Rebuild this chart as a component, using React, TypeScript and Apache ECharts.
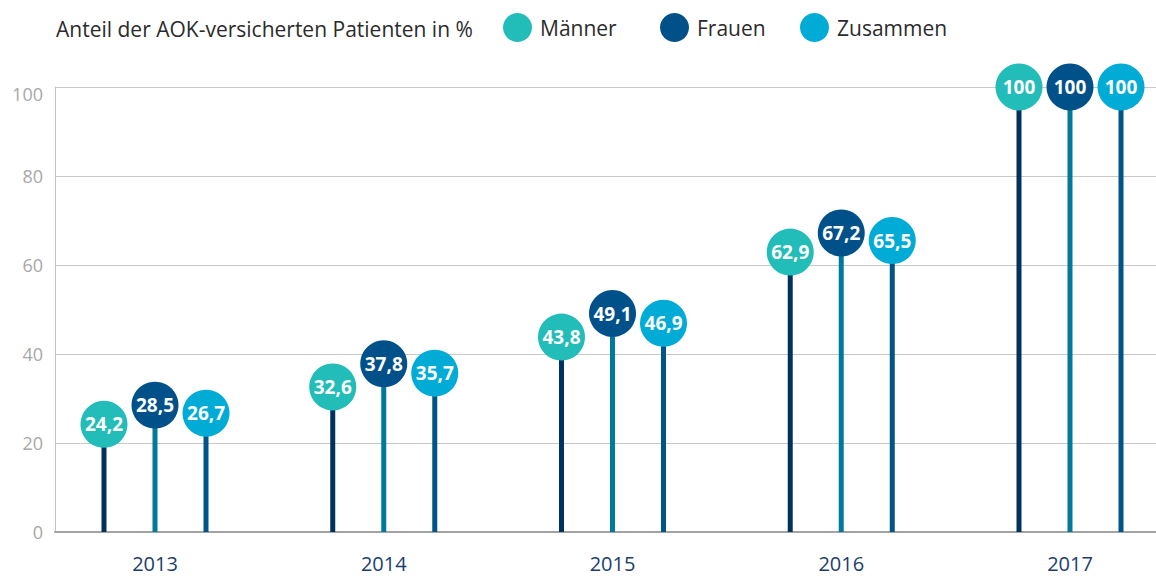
import React, { useEffect, useRef } from "react";
import * as echarts from "echarts";

const YEARS = ["2013", "2014", "2015", "2016", "2017"];
const SERIES_NAMES = ["Männer", "Frauen", "Zusammen"];
const MAENNER = [24.2, 32.6, 43.8, 62.9, 100];
const FRAUEN = [28.5, 37.8, 49.1, 67.2, 100];
const ZUSAMMEN = [26.7, 35.7, 46.9, 65.5, 100];
const Y_TICKS = [0, 20, 40, 60, 80, 100];
const TITLE = "Anteil der AOK-versicherten Patienten in %";

const CIRCLE_COLORS = ["#22bdb9", "#00518a", "#00acd6"];
const STEM_COLORS = ["#00325e", "#007a9b", "#005487"];
const OFFSETS = [-0.223, 0, 0.223];
const FONT = "'Open Sans', sans-serif";

export default function App() {
  const ref = useRef<HTMLDivElement>(null);
  useEffect(() => {
    if (!ref.current) return;
    const chart = echarts.init(ref.current, undefined, { renderer: "svg" });
    const all = [MAENNER, FRAUEN, ZUSAMMEN];
    const fmt = (v: number) => String(v).replace(".", ",");
    const bars = all.map((vals, k) => ({
      type: "bar",
      name: SERIES_NAMES[k] + " Stiel",
      barWidth: 5,
      barGap: "-100%",
      itemStyle: { color: STEM_COLORS[k] },
      data: vals.map((v, i) => [i + OFFSETS[k], v]),
      z: 2,
    }));
    const dots = all.map((vals, k) => ({
      type: "scatter",
      name: SERIES_NAMES[k],
      symbol: "circle",
      symbolSize: 47,
      itemStyle: { color: CIRCLE_COLORS[k], opacity: 1 },
      data: vals.map((v, i) => [i + OFFSETS[k], v]),
      label: {
        show: true,
        position: "inside",
        color: "#ffffff",
        fontWeight: "bold",
        fontSize: 19,
        fontFamily: FONT,
        formatter: (p: any) => fmt(p.value[1]),
      },
      z: 5,
    }));
    const legendLefts = [503, 660, 800];
    const yMax = Y_TICKS[Y_TICKS.length - 1];
    chart.setOption({
      animation: false,
      textStyle: { fontFamily: FONT },
      title: {
        text: TITLE,
        left: 56,
        top: 17,
        padding: 0,
        textStyle: { fontSize: 21, lineHeight: 24, fontWeight: "normal", color: "#2b2b2b", fontFamily: FONT },
      },
      legend: SERIES_NAMES.map((n, k) => ({
        data: [n],
        left: legendLefts[k],
        top: 13,
        padding: 0,
        icon: "circle",
        itemWidth: 29,
        itemHeight: 29,
        itemGap: 0,
        textStyle: { fontSize: 21, color: "#2b2b2b", fontFamily: FONT, padding: [0, 0, 0, 3] },
        selectedMode: false,
      })),
      grid: { left: 55, right: 0, top: 87, bottom: 44 },
      xAxis: {
        type: "value",
        min: (55 - 155) / 228.75,
        max: (1156 - 155) / 228.75,
        splitLine: { show: false },
        axisTick: { show: false },
        axisLine: { show: true, onZero: false, lineStyle: { color: "#a3a3a3", width: 2 } },
        axisLabel: {
          customValues: YEARS.map((_, i) => i),
          formatter: (v: number) => YEARS[Math.round(v)] ?? "",
          color: "#1b3e6f",
          fontSize: 20,
          lineHeight: 20,
          fontFamily: FONT,
          margin: 21,
        },
      },
      yAxis: {
        type: "value",
        min: Y_TICKS[0],
        max: yMax,
        interval: 20,
        axisLine: { show: true, onZero: false, lineStyle: { color: "#c4c4c4", width: 1 } },
        axisTick: { show: false },
        splitLine: { show: true, lineStyle: { color: "#c8c8c8", width: 1 } },
        axisLabel: {
          color: "#a8a8a8",
          fontSize: 18,
          fontFamily: FONT,
          margin: 12,
          formatter: (v: number) => (v === yMax ? "{top|" + v + "}" : String(v)),
          rich: { top: { color: "#a8a8a8", fontSize: 18, fontFamily: FONT, padding: [14, 0, 0, 0] } },
        },
      },
      series: [...bars, ...dots],
    });
    return () => chart.dispose();
  }, []);
  return (
    <div
      ref={ref}
      style={{ position: "absolute", left: 0, top: 0, width: 1156, height: 576, background: "#fff" }}
    />
  );
}
